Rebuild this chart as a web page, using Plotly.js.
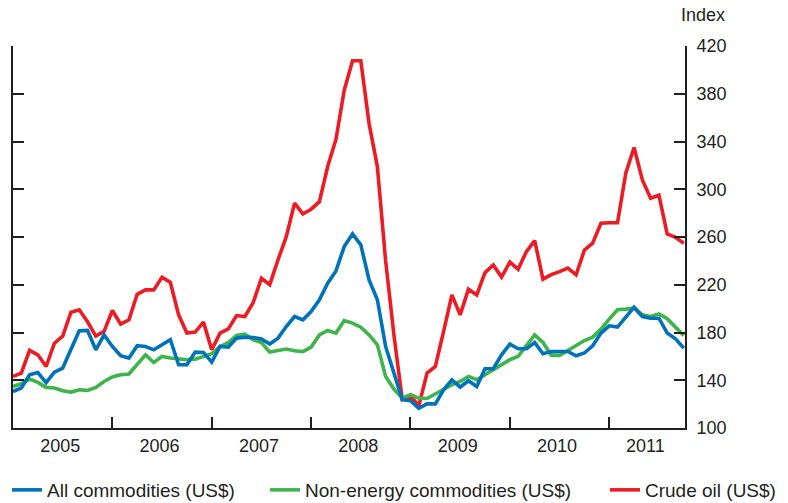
<!DOCTYPE html>
<html>
<head>
<meta charset="utf-8">
<script src="https://cdn.plot.ly/plotly-3.0.1.min.js"></script>
<style>
html,body{margin:0;padding:0;background:#fff;}
#chart{width:788px;height:503px;}
</style>
</head>
<body>
<div id="chart"></div>
<script>
// Monthly observations, Jan 2005 .. Oct 2011
const years = ['2005','2006','2007','2008','2009','2010','2011'];

const allCommodities = [
  130.6,133.5,144.6,146.5,138,146.8,150.2,165.5,181.4,181.7,165.5,178,
  168.3,160.5,158.6,168.9,168.3,165.5,169.7,173.9,153,153,163.6,163.3,
  155.2,168.3,167.8,175.3,176.1,175.8,174.5,170.3,175.3,185,193.4,190.6,
  197.6,207.4,221.3,231.6,252,262.6,253.4,224.1,207.4,168.3,146,123.7,
  122.8,116.5,120.2,120.2,132,140.4,134.3,139.6,134.8,149.6,149.6,161.3,
  170.3,166.4,166.4,171.6,162.2,164,164.1,164.1,160.5,162.8,168.9,179.5,
  185.6,184.5,192.9,201.2,193.4,192,192,179.5,174.7,167
];

const nonEnergy = [
  134.8,137,141,138.2,134,133.5,131.2,130.1,132,131.5,134,139,
  142.7,144.6,145.2,153,161.3,154.9,160,158.6,158,157.2,157.7,160,
  162.2,168.3,171.6,177.5,178.7,173.9,171.6,163.6,164.7,166.1,164.7,164,
  167.8,178,181.7,179.5,190,187.9,184.5,178,169.7,143.2,132.6,125,
  127.9,125,124.7,128.5,132,136.2,139,143.2,140.4,144.6,148.8,153.5,
  157.2,160,168.9,178,171.6,161,160.8,165,168.9,173.3,176.1,182.8,
  191.2,199,199.6,200.4,194.8,193.4,195.6,191.5,184.5,177.5
];

const crudeOil = [
  143.2,146,165,161.3,151.5,171,177,197,199,189,177,181,
  198.4,187,190.6,212,215.7,215.7,226.4,222,194.8,179.5,180.3,188.7,
  165.5,179.5,183,194.2,193.4,205,225.5,220,240.8,260.3,288.3,279.3,
  283.3,289.6,319,341.8,383,407.6,407.6,355,319,240,178,124,
  127,118.5,146,151.5,181,211.5,194.8,216.3,211.5,230.2,236.6,226.4,
  239,233,247.8,257,224.7,228.5,231,233.9,228.3,249,254.8,271.5,
  272,272,313.4,335,307.8,292.5,295,262.6,259.8,254.8
];

const seriesNames = ['All commodities (US$)', 'Non-energy commodities (US$)', 'Crude oil (US$)'];
const seriesColors = ['#0072BC', '#3DB54A', '#ED1C24'];
const yTicks = [100,140,180,220,260,300,340,380,420];

const monthIndex = crudeOil.map((_, i) => i);
const lastIdx = monthIndex.length - 1;

const yearStarts = years.map((_, k) => 12 * k);
const xMax = lastIdx + 0.15;
const yearCenters = yearStarts.map((s, k) => k < years.length - 1 ? s + 5.7 : (s + xMax) / 2 - 0.2);

const axisColor = '#231F20';
const font = 'Liberation Sans, Arial, sans-serif';

const data = [allCommodities, nonEnergy, crudeOil].map((vals, k) => ({
  x: monthIndex,
  y: vals,
  type: 'scatter',
  mode: 'lines',
  name: seriesNames[k],
  line: {color: seriesColors[k], width: 3.6},
  legend: k === 0 ? 'legend' : 'legend' + (k + 1)
}));
const ordered = [data[2], data[1], data[0]];

const legendBase = {
  orientation: 'h',
  xref: 'container', yref: 'container',
  yanchor: 'middle', xanchor: 'left',
  y: 1 - 490 / 503,
  font: {family: font, size: 19, color: axisColor},
  bgcolor: 'rgba(0,0,0,0)',
  borderwidth: 0,
  itemwidth: 30
};

const layout = {
  width: 788, height: 503,
  margin: {l: 13, r: 103, t: 46, b: 75},
  paper_bgcolor: '#ffffff',
  plot_bgcolor: '#ffffff',
  showlegend: true,
  font: {family: font, size: 18, color: axisColor},
  xaxis: {
    range: [0, xMax],
    showgrid: false, zeroline: false,
    showline: true, linecolor: axisColor, linewidth: 2,
    tickmode: 'array', tickvals: yearCenters, ticktext: years,
    ticks: '', ticklen: 0,
    tickfont: {family: font, size: 18, color: axisColor},
    minor: {
      tickmode: 'array', tickvals: yearStarts.slice(1),
      ticks: 'inside', ticklen: 11, tickwidth: 2, tickcolor: axisColor, showgrid: false
    },
    fixedrange: true
  },
  yaxis: {
    range: [100, 420],
    side: 'right',
    showgrid: false, zeroline: false,
    showline: true, linecolor: axisColor, linewidth: 2,
    mirror: 'ticks',
    tickmode: 'array', tickvals: yTicks,
    ticks: 'inside', ticklen: 11, tickwidth: 2, tickcolor: axisColor,
    ticklabelstandoff: 6,
    tickfont: {family: font, size: 18, color: axisColor},
    fixedrange: true
  },
  legend: Object.assign({}, legendBase, {x: 7 / 788}),
  legend2: Object.assign({}, legendBase, {x: 265 / 788}),
  legend3: Object.assign({}, legendBase, {x: 605 / 788}),
  annotations: [{
    text: 'Index',
    xref: 'paper', yref: 'paper',
    x: (727 - 13) / 672, xanchor: 'right',
    y: (428.3 - 15) / 382.3, yanchor: 'middle',
    showarrow: false,
    font: {family: font, size: 18, color: axisColor}
  }]
};

Plotly.newPlot('chart', ordered, layout, {displayModeBar: false, staticPlot: true});
</script>
</body>
</html>
